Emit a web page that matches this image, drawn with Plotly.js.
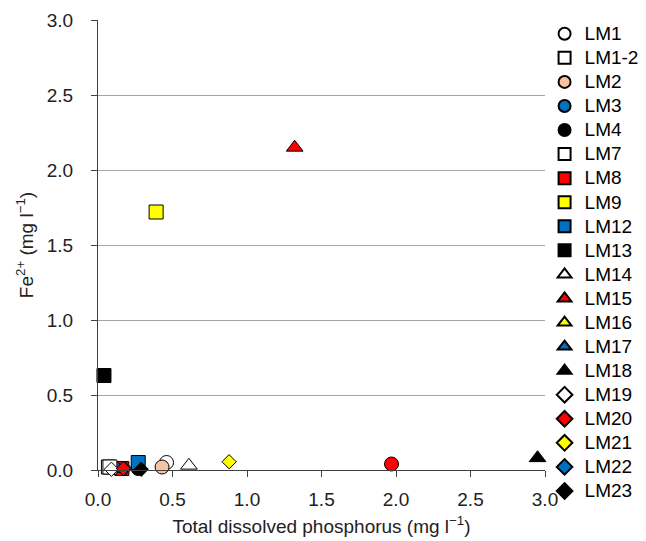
<!DOCTYPE html>
<html>
<head>
<meta charset="utf-8">
<script src="https://cdn.plot.ly/plotly-3.0.1.min.js"></script>
<style>html,body{margin:0;padding:0;background:#fff;}#chart{width:646px;height:541px;}</style>
</head>
<body>
<div id="chart"></div>
<script>
// Legend order
const names   = ["LM1","LM1-2","LM2","LM3","LM4","LM7","LM8","LM9","LM12","LM13","LM14","LM15","LM16","LM17","LM18","LM19","LM20","LM21","LM22","LM23"];
const symbols = ["circle","square","circle","circle","circle","square","square","square","square","square","triangle-up","triangle-up","triangle-up","triangle-up","triangle-up","diamond","diamond","diamond","diamond","diamond"];
const fills   = ["#FFFFFF","#FFFFFF","#F8C4A0","#0070C0","#000000","#FFFFFF","#FF0000","#FFFF00","#0070C0","#000000","#FFFFFF","#FF0000","#FFFF00","#0070C0","#000000","#FFFFFF","#FF0000","#FFFF00","#0070C0","#000000"];
// Total dissolved phosphorus (mg l-1)
const tdp     = [0.46, 0.08, 0.43, 0.14, 0.27, 0.07, 0.16, 0.39, 0.27, 0.04, 0.61, 1.32, 0.12, 0.13, 2.95, 0.09, 0.17, 0.88, 0.18, 0.29];
// Fe2+ (mg l-1)
const fe      = [0.05, 0.02, 0.02, 0.01, 0.01, 0.02, 0.01, 1.72, 0.05, 0.63, 0.03, 2.15, 0.01, 0.01, 0.08, 0.005, 0.01, 0.055, 0.01, 0.005];
// Point drawn without a legend entry
const extraName = "unlabelled";
const extraX = [1.97];
const extraY = [0.04];

// Points hidden in the cluster are drawn first
const hidden = ["LM3","LM4","LM7","LM8","LM16","LM17","LM22"];

function sizeFor(sym){
  if (sym === "square") return 14;
  if (sym === "circle") return 14;
  if (sym === "diamond") return 11;
  return 14.5;
}

const traces = [];
const order = names.map((n,i)=>i).sort((a,b)=>{
  const ha = hidden.includes(names[a]) ? 0 : 1;
  const hb = hidden.includes(names[b]) ? 0 : 1;
  return ha - hb || a - b;
});
traces.push({
  type: "scatter", mode: "markers", name: extraName, x: extraX, y: extraY,
  showlegend: false, cliponaxis: false,
  marker: {symbol: "circle", size: 14, color: "#FF0000", line: {color: "#000000", width: 1}}
});
order.forEach(i=>{
  traces.push({
    type: "scatter", mode: "markers",
    name: "<span style='font-size:19px'>" + names[i] + "</span>",
    x: [tdp[i]], y: [fe[i]],
    legendrank: i + 1,
    cliponaxis: false,
    marker: {symbol: symbols[i], size: sizeFor(symbols[i]), color: fills[i],
             line: {color: "#000000", width: 1}}
  });
});

const axisFont = {family: "Liberation Sans, Arial, sans-serif", size: 19, color: "#222"};
const layout = {
  width: 646, height: 541,
  margin: {l: 98, r: 101, t: 20, b: 71, autoexpand: false},
  paper_bgcolor: "#fff", plot_bgcolor: "#fff",
  font: {family: "Liberation Sans, Arial, sans-serif", color: "#222"},
  showlegend: true,
  legend: {xref: "container", yref: "container",
           x: 0.843, xanchor: "left", y: 0.969, yanchor: "top", maxheight: 600,
           itemsizing: "constant",
           font: {family: "Liberation Sans, Arial, sans-serif", size: 16.2, color: "#000"},
           bgcolor: "rgba(0,0,0,0)", itemclick: false, tracegroupgap: 0, itemwidth: 30},
  xaxis: {
    range: [0, 3], dtick: 0.5, tick0: 0, tickformat: ".1f",
    showgrid: false, zeroline: false, showline: true, linecolor: "#404040", linewidth: 1,
    ticks: "outside", ticklen: 6, tickcolor: "#404040", ticklabelstandoff: 6,
    tickfont: axisFont, automargin: false,
    title: {text: "Total dissolved phosphorus (mg l<sup>\u22121</sup>)", font: axisFont, standoff: 10}
  },
  yaxis: {
    range: [0, 3], dtick: 0.5, tick0: 0, tickformat: ".1f",
    showgrid: true, gridcolor: "#A6A6A6", gridwidth: 1,
    zeroline: false, showline: true, linecolor: "#404040", linewidth: 1,
    ticks: "outside", ticklen: 6, tickcolor: "#404040", ticklabelstandoff: 14,
    tickfont: axisFont, automargin: false,
    title: {text: "Fe<sup>2+</sup> (mg l<sup>\u22121</sup>)", font: axisFont, standoff: 8}
  }
};
Plotly.newPlot("chart", traces, layout, {displayModeBar: false, staticPlot: true});
</script>
</body>
</html>
